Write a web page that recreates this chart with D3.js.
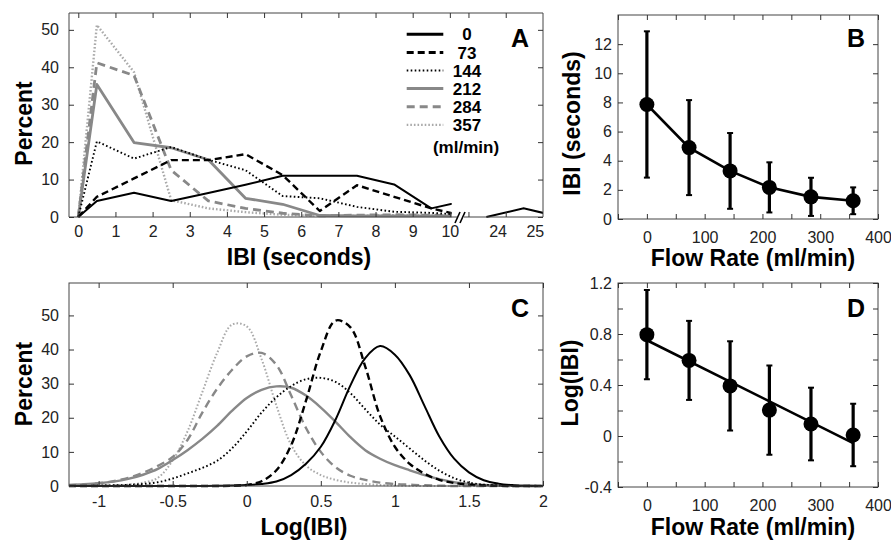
<!DOCTYPE html>
<html><head><meta charset="utf-8">
<script src="https://cdn.jsdelivr.net/npm/d3@7"></script>
<style>
body{margin:0;background:#fff;}
svg{display:block;}
</style></head><body>
<svg id="chart" width="891" height="540"></svg>
<script>
// ---------- DATA ----------
const seriesLabels = ["0","73","144","212","284","357"];
const flowRates = [0,73,144,212,284,357];

// Panel A: IBI histogram (percent), bin centres in seconds
const ibiBins = [0,0.5,1.5,2.5,3.5,4.5,5.5,6.5,7.5,8.5,9.5,10.5];
const pct0   = [0,4.3,6.5,4.3,6.4,8.6,11,11,11,8.7,2.3,4.5];
const pct73  = [0,5.4,10.3,15.2,15.2,16.8,11.2,1.6,8.5,5.4,2.3,0];
const pct144 = [0,20.2,15.6,18.7,15.3,12.5,5.6,5.0,2.7,1.4,1.1,0.5];
const pct212 = [0,35.4,19.9,18.5,15.3,5.0,3.4,0.4,0.3,0.3,0.3,0.2];
const pct284 = [0,41.2,37.8,12.5,4.3,2.3,1.0,0.3,0.5,0.6,0.5,0.3];
const pct357 = [0,51.3,38.7,4.5,2.3,1.3,0.6,0.3,0.3,0.5,0.4,0.2];
const tailBins = [23.7,24.7,25.7];
const tailPct0 = [0,2.3,0];
const ibiTickLabelsLeft = [0,1,2,3,4,5,6,7,8,9,10];
const ibiTickLabelsRight = [24,25];
const ibiTickMarksRight = [23.22,24.22];
const pctTicksA = [0,10,20,30,40,50];

// Panel B: IBI mean and SD vs flow rate
const ibiMean = [7.86,4.9,3.3,2.17,1.52,1.25];
const ibiSD   = [5.02,3.26,2.6,1.72,1.31,0.92];
const ibiTicksB = [0,2,4,6,8,10,12];
const flowTickMarks = [-50,0,50,100,150,200,250,300,350,400];
const flowTickLabels = [0,100,200,300,400];

// Panel C: distributions of log(IBI)
const logX = [-1.2,-1.1,-1.0,-0.9,-0.8,-0.7,-0.6,-0.5,-0.4,-0.3,-0.2,-0.1,0,0.1,0.2,0.3,0.4,0.5,0.6,0.7,0.8,0.9,1.0,1.1,1.2,1.3,1.4,1.5,1.6,1.7,1.8,1.9,2.0];
const dens0   = [0,0,0,0,0,0,0,0,0,0,0.05,0.15,0.3,0.6,1.3,3.2,6.5,11.5,19.5,29.5,37.5,41,38.5,32.5,23.5,14.5,8,4,1.7,0.7,0.25,0.05,0];
const dens73  = [0,0,0,0,0,0,0,0,0,0,0,0.05,0.3,1.4,4.6,12,25,39.5,48.5,46.5,35,20.5,11.5,6.5,3.6,1.8,0.9,0.4,0.15,0.05,0,0,0];
const dens144 = [0,0,0.1,0.2,0.35,0.6,1.1,2.2,3.7,5.3,7.4,11,16,21.5,26,29.3,31.3,31.7,30.5,27.2,22.5,18,14.5,11,7.5,4.5,2.3,1.0,0.4,0.15,0.05,0,0];
const dens212 = [0.3,0.5,0.8,1.3,2.1,3.3,5.0,7.6,10.5,13.8,17.6,22,25.8,28.2,29.2,28.8,26.5,23,18.8,14.3,10.5,8,6.1,4.6,3.2,2.0,1.1,0.6,0.3,0.15,0.05,0,0];
const dens284 = [0.2,0.4,0.8,1.4,2.4,3.9,5.9,8.5,13.5,21.5,28.5,34,38,39,35.5,26.5,17,10,5.5,3,1.8,1.0,0.6,0.4,0.2,0.1,0,0,0,0,0,0,0];
const dens357 = [0,0,0.1,0.2,0.4,1.0,2.4,7.5,16,27.5,39,47.3,46.8,37.2,23.6,12,6,3.2,1.8,1.0,0.6,0.3,0.15,0.05,0,0,0,0,0,0,0,0,0];
const logTicksC = [-1,-0.5,0,0.5,1,1.5,2];
const pctTicksC = [0,10,20,30,40,50];

// Panel D: log(IBI) mean and SD vs flow rate, with linear fit
const logMean = [0.795,0.593,0.393,0.203,0.094,0.008];
const logSD   = [0.35,0.31,0.35,0.35,0.285,0.245];
const fitFlow = [0,357];
const fitLog  = [0.751,-0.056];
const logTickMarksD = [-0.4,-0.2,0,0.2,0.4,0.6,0.8,1.0,1.2];
const logTickLabelsD = [-0.4,0,0.4,0.8,1.2];

// ---------- STYLE ----------
const FONT = '"Liberation Sans", Arial, Helvetica, sans-serif';
const styles = [
  {color:"#000", w:2.0, dash:null},
  {color:"#000", w:2.4, dash:"7,4"},
  {color:"#000", w:1.9, dash:"1.6,2.4"},
  {color:"#888", w:2.8, dash:null},
  {color:"#888", w:2.8, dash:"8,5"},
  {color:"#aaa", w:2.4, dash:"1.6,2"}
];
const svg = d3.select("#chart");
const defs = svg.append("defs");

function clip(id, x0, x1, y0, y1){
  defs.append("clipPath").attr("id", id).append("rect")
    .attr("x", x0).attr("y", y0).attr("width", x1 - x0).attr("height", y1 - y0);
}
function marks(axisFn, scale, values, tx, ty, size){
  const g = svg.append("g").attr("transform", `translate(${tx},${ty})`)
    .call(axisFn(scale).tickValues(values).tickSize(-size).tickFormat(""));
  g.select(".domain").remove();
  g.selectAll("line").attr("stroke", "#333").attr("stroke-width", 1);
  return g;
}
function labels(axisFn, scale, values, tx, ty, pad){
  const g = svg.append("g").attr("transform", `translate(${tx},${ty})`)
    .call(axisFn(scale).tickValues(values).tickSize(0).tickPadding(pad).tickFormat(d => String(d)));
  g.select(".domain").remove();
  g.selectAll("text").attr("font-size", 16).attr("font-family", FONT).attr("fill", "#222");
  return g;
}
function frame(x0, x1, y0, y1){
  svg.append("rect").attr("x", x0).attr("y", y0).attr("width", x1 - x0).attr("height", y1 - y0)
    .attr("fill", "none").attr("stroke", "#444").attr("stroke-width", 1);
}
function title(txt, x, y, rot, size){
  svg.append("text").attr("transform", `translate(${x},${y}) rotate(${rot||0})`)
    .attr("text-anchor", "middle").attr("font-family", FONT).attr("font-weight", "bold")
    .attr("font-size", size || 23).attr("fill", "#000").text(txt);
}

// ---------- PANEL A ----------
const A = {x0:69, x1:543, y0:13, y1:217};
const xAL = d3.scaleLinear().domain([-0.25, 10.3]).range([A.x0, 461]);
const xAR = d3.scaleLinear().domain([23.02, 25.22]).range([461, A.x1]);
const yA = d3.scaleLinear().domain([0, 54.5]).range([A.y1, A.y0]);
clip("clipAL", A.x0, xAL(10.05), A.y0, A.y1 + 3);
clip("clipAR", xAR(23.1), A.x1, A.y0, A.y1 + 3);

const seriesA = [pct0, pct73, pct144, pct212, pct284, pct357];
const lineA = d3.line().x(d => xAL(d[0])).y(d => yA(d[1]));
for (let i = seriesA.length - 1; i >= 0; i--) {
  const s = styles[i];
  svg.append("path").attr("clip-path", "url(#clipAL)")
    .datum(ibiBins.map((b, j) => [b, seriesA[i][j]]))
    .attr("d", lineA).attr("fill", "none").attr("stroke", s.color)
    .attr("stroke-width", s.w).attr("stroke-dasharray", s.dash).attr("stroke-linejoin", "round");
}
const lineAR = d3.line().x(d => xAR(d[0])).y(d => yA(d[1]));
svg.append("path").attr("clip-path", "url(#clipAR)")
  .datum(tailBins.map((b, j) => [b, tailPct0[j]]))
  .attr("d", lineAR).attr("fill", "none").attr("stroke", styles[0].color).attr("stroke-width", styles[0].w);

// frame for A with broken bottom axis
const brk = xAL(10.3);
svg.append("path").attr("d", `M${brk - 4},${A.y1}H${A.x0}V${A.y0}H${A.x1}V${A.y1}H${brk + 3}`)
  .attr("fill", "none").attr("stroke", "#444").attr("stroke-width", 1);
[-3.5, 1.5].forEach(o => {
  svg.append("line").attr("x1", brk + o - 2.5).attr("y1", A.y1 + 6).attr("x2", brk + o + 2.5).attr("y2", A.y1 - 5)
    .attr("stroke", "#000").attr("stroke-width", 1.6);
});
marks(d3.axisBottom, xAL, ibiTickLabelsLeft, 0, A.y1, 5);
marks(d3.axisTop, xAL, ibiTickLabelsLeft, 0, A.y0, 5);
marks(d3.axisBottom, xAR, ibiTickMarksRight, 0, A.y1, 5);
marks(d3.axisTop, xAR, ibiTickMarksRight, 0, A.y0, 5);
marks(d3.axisLeft, yA, pctTicksA, A.x0, 0, 5);
marks(d3.axisRight, yA, pctTicksA, A.x1, 0, 5);
labels(d3.axisBottom, xAL, ibiTickLabelsLeft, 0, A.y1, 9);
labels(d3.axisBottom, xAR, ibiTickLabelsRight, 0, A.y1, 9);
labels(d3.axisLeft, yA, pctTicksA, A.x0, 0, 10);
title("IBI (seconds)", 299, 265);
title("Percent", 31.5, 123.5, -90);
title("A", 520, 47, 0, 25);

// legend
const legY0 = 34.3, legDy = 18.1;
seriesLabels.forEach((lab, i) => {
  const s = styles[i];
  const y = legY0 + i * legDy;
  svg.append("line").attr("x1", 406.7).attr("x2", 443.3).attr("y1", y).attr("y2", y)
    .attr("stroke", s.color).attr("stroke-width", i === 2 || i === 5 ? 2.2 : 3)
    .attr("stroke-dasharray", s.dash);
  svg.append("text").attr("x", 467).attr("y", y).attr("dy", "0.36em").attr("text-anchor", "middle")
    .attr("font-family", FONT).attr("font-weight", "bold").attr("font-size", 17).text(lab);
});
svg.append("text").attr("x", 466).attr("y", legY0 + 6 * legDy + 4).attr("dy", "0.36em").attr("text-anchor", "middle")
  .attr("font-family", FONT).attr("font-weight", "bold").attr("font-size", 17).text("(ml/min)");

// ---------- PANEL B ----------
const B = {x0:618, x1:878, y0:15, y1:219};
const xB = d3.scaleLinear().domain([-50, 400]).range([B.x0, B.x1]);
const yB = d3.scaleLinear().domain([0, 14]).range([B.y1, B.y0]);
frame(B.x0, B.x1, B.y0, B.y1);
marks(d3.axisBottom, xB, flowTickMarks, 0, B.y1, 5);
marks(d3.axisTop, xB, flowTickMarks, 0, B.y0, 5);
marks(d3.axisLeft, yB, ibiTicksB, B.x0, 0, 5);
marks(d3.axisRight, yB, ibiTicksB, B.x1, 0, 5);
labels(d3.axisBottom, xB, flowTickLabels, 0, B.y1, 13);
labels(d3.axisLeft, yB, ibiTicksB, B.x0, 0, 6);

function errPlot(xs, ys, mean, sd, fitX, fitY){
  flowRates.forEach((f, i) => {
    const cx = xs(f), yt = ys(mean[i] + sd[i]), yb = ys(mean[i] - sd[i]);
    svg.append("line").attr("x1", cx).attr("x2", cx).attr("y1", yt).attr("y2", yb)
      .attr("stroke", "#000").attr("stroke-width", 3.2);
    [yt, yb].forEach(yy => svg.append("line").attr("x1", cx - 3).attr("x2", cx + 3)
      .attr("y1", yy).attr("y2", yy).attr("stroke", "#000").attr("stroke-width", 2));
  });
  const ln = d3.line().x(d => xs(d[0])).y(d => ys(d[1]));
  const pts = fitX ? fitX.map((x, i) => [x, fitY[i]]) : flowRates.map((f, i) => [f, mean[i]]);
  svg.append("path").datum(pts).attr("d", ln).attr("fill", "none").attr("stroke", "#000").attr("stroke-width", 2.6);
  svg.selectAll(null).data(flowRates.map((f, i) => [f, mean[i]])).enter().append("circle")
    .attr("cx", d => xs(d[0])).attr("cy", d => ys(d[1])).attr("r", 7.5).attr("fill", "#000");
}
errPlot(xB, yB, ibiMean, ibiSD);
title("Flow Rate (ml/min)", 753, 265.5);
title("IBI (seconds)", 580, 123.5, -90);
title("B", 856, 47, 0, 25);

// ---------- PANEL C ----------
const C = {x0:69, x1:543, y0:283, y1:486};
const xC = d3.scaleLinear().domain([-1.2, 2]).range([C.x0, C.x1]);
const yC = d3.scaleLinear().domain([0, 59.5]).range([C.y1, C.y0]);
clip("clipC", C.x0, C.x1, C.y0, C.y1 + 3);
const seriesC = [dens0, dens73, dens144, dens212, dens284, dens357];
const lineC = d3.line().x(d => xC(d[0])).y(d => yC(Math.max(0, d[1]))).curve(d3.curveCatmullRom.alpha(0.5));
for (let i = seriesC.length - 1; i >= 0; i--) {
  const s = styles[i];
  svg.append("path").attr("clip-path", "url(#clipC)")
    .datum(logX.map((x, j) => [x, seriesC[i][j]]))
    .attr("d", lineC).attr("fill", "none").attr("stroke", s.color)
    .attr("stroke-width", i >= 3 ? s.w - 0.4 : s.w).attr("stroke-dasharray", s.dash);
}
frame(C.x0, C.x1, C.y0, C.y1);
marks(d3.axisBottom, xC, logTicksC, 0, C.y1, 5);
marks(d3.axisTop, xC, logTicksC, 0, C.y0, 5);
marks(d3.axisLeft, yC, pctTicksC, C.x0, 0, 5);
marks(d3.axisRight, yC, pctTicksC, C.x1, 0, 5);
labels(d3.axisBottom, xC, logTicksC, 0, C.y1, 10);
labels(d3.axisLeft, yC, pctTicksC, C.x0, 0, 10);
title("Log(IBI)", 304, 535);
title("Percent", 31.5, 384, -90);
title("C", 520, 317, 0, 25);

// ---------- PANEL D ----------
const D = {x0:618, x1:878, y0:283, y1:487};
const xD = d3.scaleLinear().domain([-50, 400]).range([D.x0, D.x1]);
const yD = d3.scaleLinear().domain([-0.4, 1.2]).range([D.y1, D.y0]);
frame(D.x0, D.x1, D.y0, D.y1);
marks(d3.axisBottom, xD, flowTickMarks, 0, D.y1, 5);
marks(d3.axisTop, xD, flowTickMarks, 0, D.y0, 5);
marks(d3.axisLeft, yD, logTickMarksD, D.x0, 0, 5);
marks(d3.axisRight, yD, logTickMarksD, D.x1, 0, 5);
labels(d3.axisBottom, xD, flowTickLabels, 0, D.y1, 13);
labels(d3.axisLeft, yD, logTickLabelsD, D.x0, 0, 6);
errPlot(xD, yD, logMean, logSD, fitFlow, fitLog);
title("Flow Rate (ml/min)", 753, 535);
title("Log(IBI)", 578, 383, -90);
title("D", 856, 317, 0, 25);
</script>
</body></html>
